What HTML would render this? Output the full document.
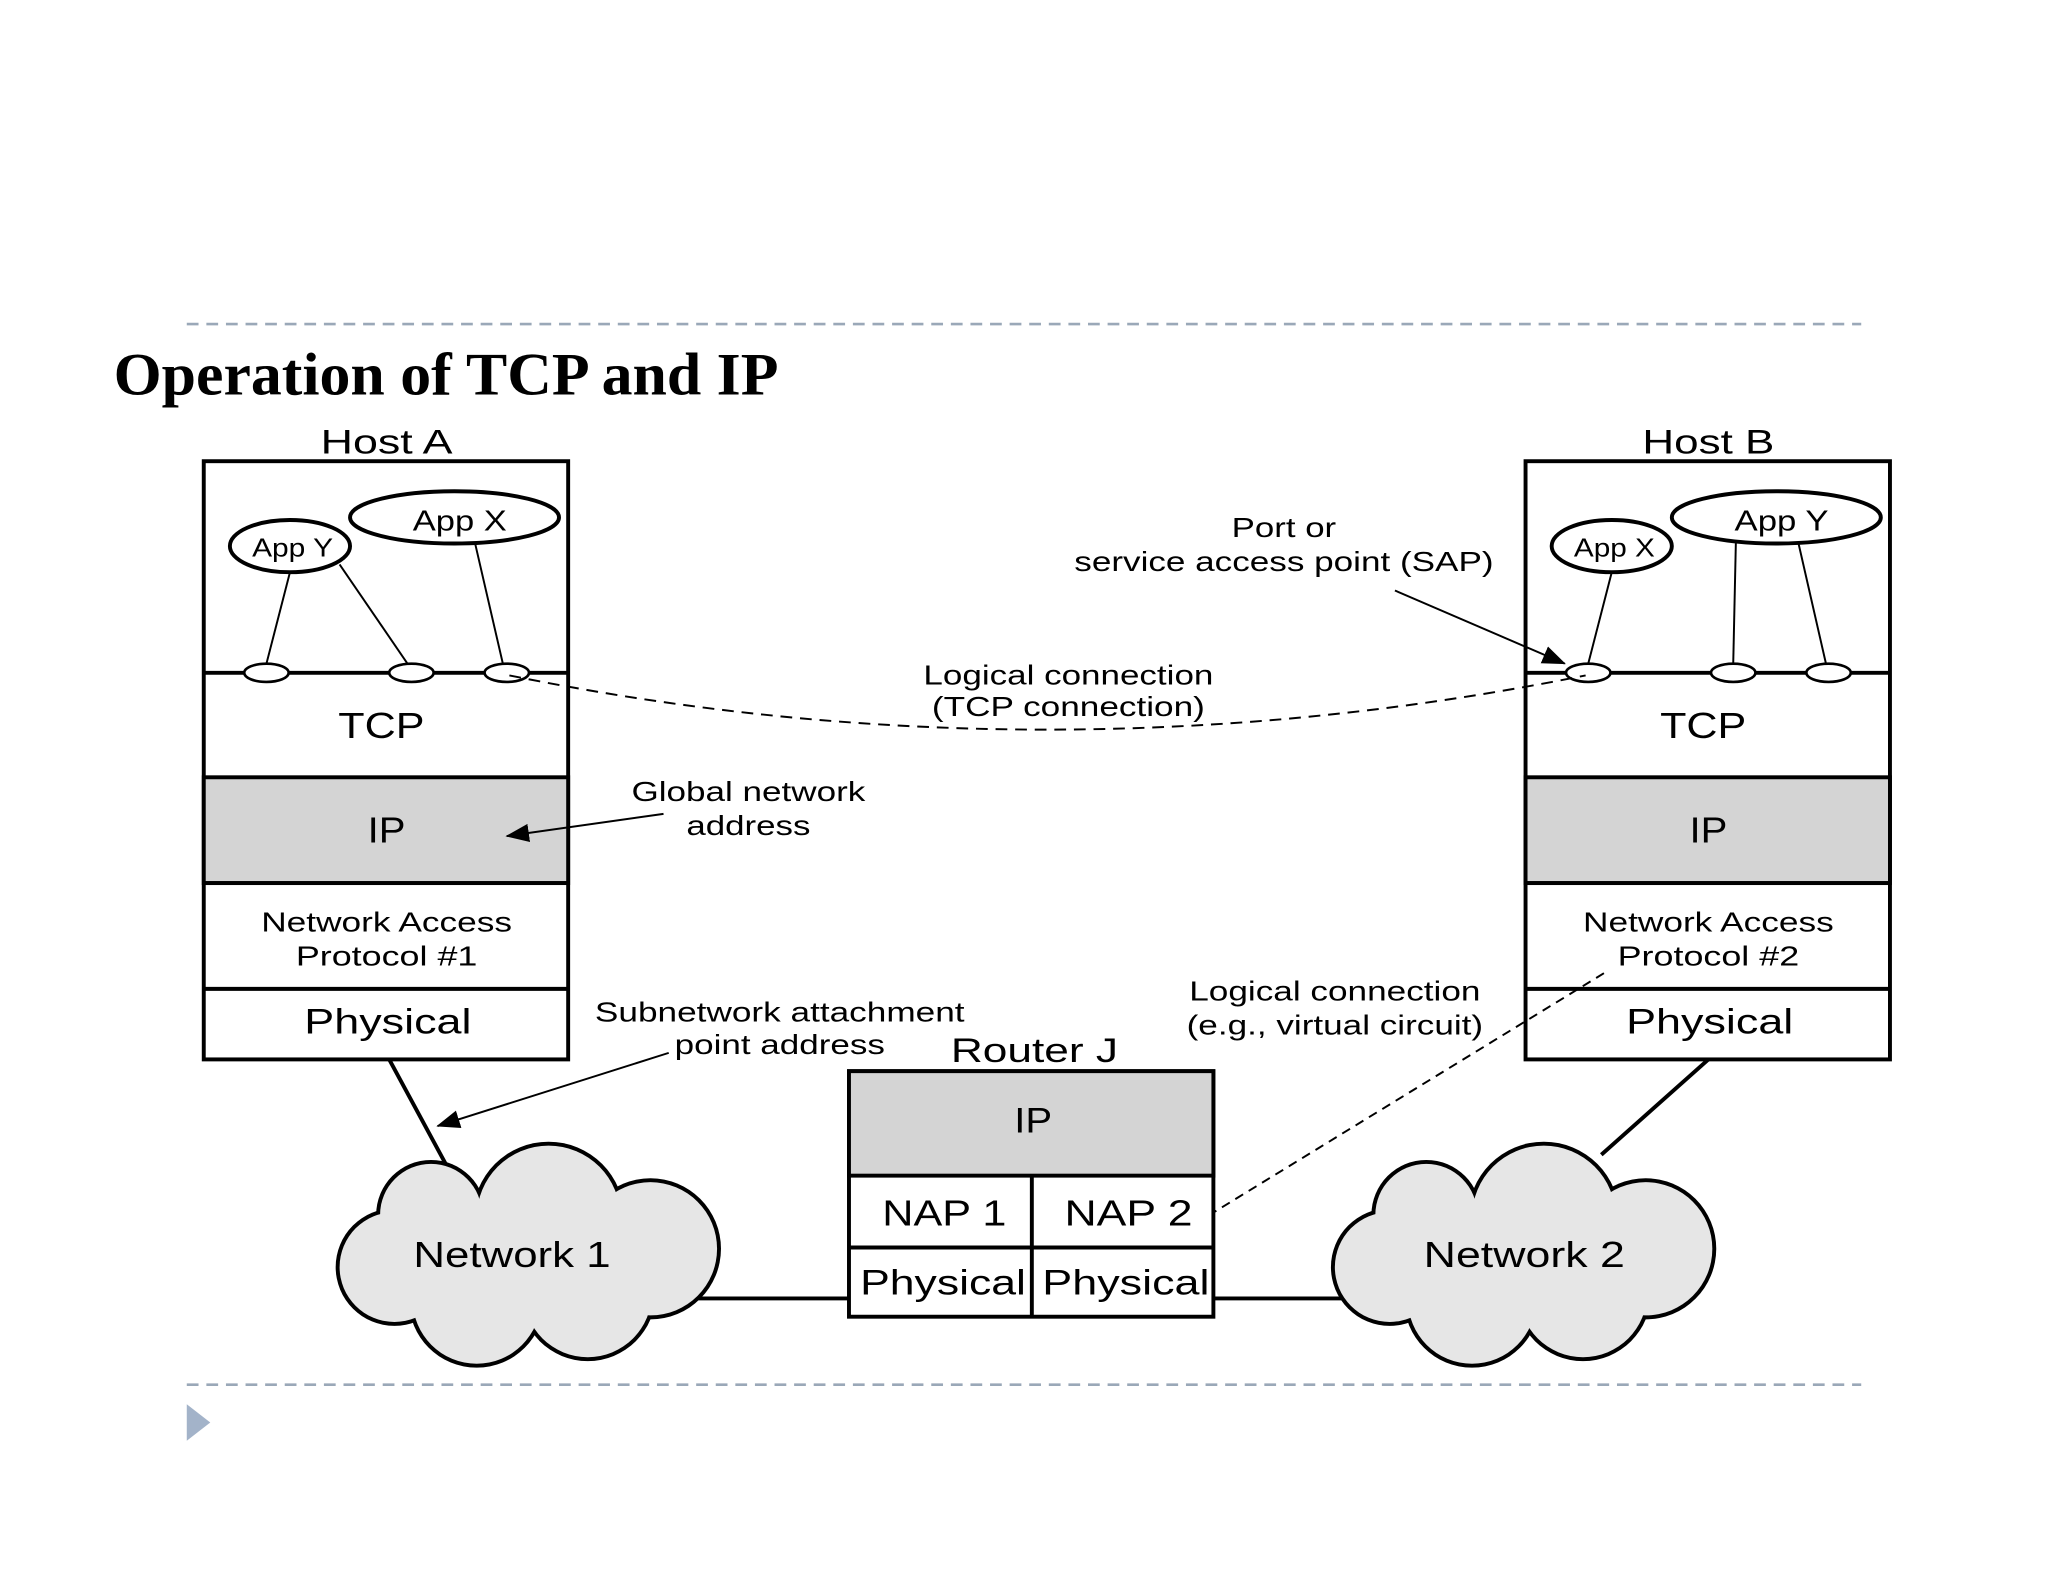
<!DOCTYPE html>
<html><head><meta charset="utf-8"><style>
html,body{margin:0;padding:0;background:#fff;}
svg{display:block;}
text{font-family:"Liberation Sans",Arial,sans-serif;fill:#000;}
</style></head><body>
<svg width="2048" height="1582" viewBox="0 0 1568 1211" xmlns="http://www.w3.org/2000/svg">
<defs>
<marker id="ah2" markerWidth="18" markerHeight="14" refX="17" refY="7" orient="auto" markerUnits="userSpaceOnUse">
<path d="M0,0 L18,7 L0,14 z" fill="#000"/></marker>
</defs>
<rect width="1568" height="1211" fill="#fff"/>
<line x1="143" y1="248" x2="1425" y2="248" stroke="#9aa8b8" stroke-width="2" stroke-dasharray="9,6"/>
<line x1="143" y1="1060" x2="1425" y2="1060" stroke="#9aa8b8" stroke-width="2" stroke-dasharray="9,6"/>
<text x="87" y="302" textLength="509" lengthAdjust="spacingAndGlyphs" style="font-family:'Liberation Serif',serif;font-weight:bold;font-size:46px">Operation of TCP and IP</text>
<path d="M143,1075 L143,1103 L161,1089 z" fill="#a3b3c9"/>

<!-- Host A -->
<text x="296" y="347" font-size="26" text-anchor="middle" textLength="101" lengthAdjust="spacingAndGlyphs">Host A</text>
<g stroke="#000" stroke-width="3" fill="none">
<rect x="156" y="353" width="279" height="458" fill="#fff"/>
<rect x="156" y="595" width="279" height="81" fill="#d4d4d4"/>
<line x1="156" y1="515" x2="435" y2="515"/>
<line x1="156" y1="676" x2="435" y2="676"/>
<line x1="156" y1="757" x2="435" y2="757"/>
</g>
<g stroke="#000" stroke-width="1.5">
<line x1="222" y1="438" x2="204" y2="508"/>
<line x1="260" y1="432" x2="312" y2="508"/>
<line x1="364" y1="417" x2="385" y2="508"/>
</g>
<g stroke="#000" stroke-width="3" fill="#fff">
<ellipse cx="222" cy="418" rx="46" ry="20"/>
<ellipse cx="348" cy="396" rx="80" ry="20"/>
</g>
<g stroke="#000" stroke-width="2" fill="#fff">
<ellipse cx="204" cy="515" rx="17" ry="7"/>
<ellipse cx="315" cy="515" rx="17" ry="7"/>
<ellipse cx="388" cy="515" rx="17" ry="7"/>
</g>
<text x="224" y="426" font-size="20" text-anchor="middle" textLength="62" lengthAdjust="spacingAndGlyphs">App Y</text>
<text x="352" y="406" font-size="22" text-anchor="middle" textLength="72" lengthAdjust="spacingAndGlyphs">App X</text>
<text x="292" y="565" font-size="28" text-anchor="middle" textLength="66" lengthAdjust="spacingAndGlyphs">TCP</text>
<text x="296" y="645" font-size="28" text-anchor="middle" textLength="29" lengthAdjust="spacingAndGlyphs">IP</text>
<text x="296" y="713" font-size="21" text-anchor="middle" textLength="192" lengthAdjust="spacingAndGlyphs">Network Access</text>
<text x="296" y="739" font-size="21" text-anchor="middle" textLength="139" lengthAdjust="spacingAndGlyphs">Protocol #1</text>
<text x="297" y="791" font-size="27" text-anchor="middle" textLength="128" lengthAdjust="spacingAndGlyphs">Physical</text>

<!-- Host B -->
<text x="1308" y="347" font-size="26" text-anchor="middle" textLength="101" lengthAdjust="spacingAndGlyphs">Host B</text>
<g stroke="#000" stroke-width="3" fill="none">
<rect x="1168" y="353" width="279" height="458" fill="#fff"/>
<rect x="1168" y="595" width="279" height="81" fill="#d4d4d4"/>
<line x1="1168" y1="515" x2="1447" y2="515"/>
<line x1="1168" y1="676" x2="1447" y2="676"/>
<line x1="1168" y1="757" x2="1447" y2="757"/>
</g>
<g stroke="#000" stroke-width="1.5">
<line x1="1234" y1="438" x2="1216" y2="508"/>
<line x1="1329" y1="416" x2="1327" y2="508"/>
<line x1="1377" y1="416" x2="1398" y2="508"/>
</g>
<g stroke="#000" stroke-width="3" fill="#fff">
<ellipse cx="1234" cy="418" rx="46" ry="20"/>
<ellipse cx="1360" cy="396" rx="80" ry="20"/>
</g>
<g stroke="#000" stroke-width="2" fill="#fff">
<ellipse cx="1216" cy="515" rx="17" ry="7"/>
<ellipse cx="1327" cy="515" rx="17" ry="7"/>
<ellipse cx="1400" cy="515" rx="17" ry="7"/>
</g>
<text x="1236" y="426" font-size="20" text-anchor="middle" textLength="62" lengthAdjust="spacingAndGlyphs">App X</text>
<text x="1364" y="406" font-size="22" text-anchor="middle" textLength="72" lengthAdjust="spacingAndGlyphs">App Y</text>
<text x="1304" y="565" font-size="28" text-anchor="middle" textLength="66" lengthAdjust="spacingAndGlyphs">TCP</text>
<text x="1308" y="645" font-size="28" text-anchor="middle" textLength="29" lengthAdjust="spacingAndGlyphs">IP</text>
<text x="1308" y="713" font-size="21" text-anchor="middle" textLength="192" lengthAdjust="spacingAndGlyphs">Network Access</text>
<text x="1308" y="739" font-size="21" text-anchor="middle" textLength="139" lengthAdjust="spacingAndGlyphs">Protocol #2</text>
<text x="1309" y="791" font-size="27" text-anchor="middle" textLength="128" lengthAdjust="spacingAndGlyphs">Physical</text>

<!-- logical TCP connection -->
<path d="M390,517 Q800,600 1214,517" fill="none" stroke="#000" stroke-width="1.5" stroke-dasharray="9,6"/>
<text x="818" y="524" font-size="21" text-anchor="middle" textLength="222" lengthAdjust="spacingAndGlyphs">Logical connection</text>
<text x="818" y="548" font-size="21" text-anchor="middle" textLength="209" lengthAdjust="spacingAndGlyphs">(TCP connection)</text>
<text x="983" y="411" font-size="21" text-anchor="middle" textLength="80" lengthAdjust="spacingAndGlyphs">Port or</text>
<text x="983" y="437" font-size="21" text-anchor="middle" textLength="321" lengthAdjust="spacingAndGlyphs">service access point (SAP)</text>
<line x1="1068" y1="452" x2="1198" y2="508" stroke="#000" stroke-width="1.5" marker-end="url(#ah2)"/>
<text x="573" y="613" font-size="21" text-anchor="middle" textLength="179" lengthAdjust="spacingAndGlyphs">Global network</text>
<text x="573" y="639" font-size="21" text-anchor="middle" textLength="95" lengthAdjust="spacingAndGlyphs">address</text>
<line x1="508" y1="623" x2="388" y2="640" stroke="#000" stroke-width="1.5" marker-end="url(#ah2)"/>
<text x="597" y="782" font-size="21" text-anchor="middle" textLength="283" lengthAdjust="spacingAndGlyphs">Subnetwork attachment</text>
<text x="597" y="807" font-size="21" text-anchor="middle" textLength="161" lengthAdjust="spacingAndGlyphs">point address</text>
<line x1="512" y1="806" x2="335" y2="862" stroke="#000" stroke-width="1.5" marker-end="url(#ah2)"/>
<text x="1022" y="766" font-size="21" text-anchor="middle" textLength="223" lengthAdjust="spacingAndGlyphs">Logical connection</text>
<text x="1022" y="792" font-size="21" text-anchor="middle" textLength="227" lengthAdjust="spacingAndGlyphs">(e.g., virtual circuit)</text>
<line x1="1228" y1="745" x2="918" y2="935" stroke="#000" stroke-width="1.5" stroke-dasharray="7,5"/>

<!-- Router -->
<text x="792" y="813" font-size="26" text-anchor="middle" textLength="128" lengthAdjust="spacingAndGlyphs">Router J</text>
<g stroke="#000" stroke-width="3" fill="none">
<rect x="650" y="820" width="279" height="188" fill="#fff"/>
<rect x="650" y="820" width="279" height="80" fill="#d4d4d4"/>
<line x1="650" y1="955" x2="929" y2="955"/>
<line x1="790" y1="900" x2="790" y2="1008"/>
</g>
<text x="791" y="867" font-size="27" text-anchor="middle" textLength="29" lengthAdjust="spacingAndGlyphs">IP</text>
<text x="723" y="938" font-size="28" text-anchor="middle" textLength="95" lengthAdjust="spacingAndGlyphs">NAP 1</text>
<text x="864" y="938" font-size="28" text-anchor="middle" textLength="98" lengthAdjust="spacingAndGlyphs">NAP 2</text>
<text x="722" y="991" font-size="27" text-anchor="middle" textLength="127" lengthAdjust="spacingAndGlyphs">Physical</text>
<text x="862" y="991" font-size="27" text-anchor="middle" textLength="128" lengthAdjust="spacingAndGlyphs">Physical</text>

<!-- links -->
<g stroke="#000" stroke-width="3">
<line x1="298" y1="811" x2="345" y2="898"/>
<line x1="1308" y1="811" x2="1226" y2="884"/>
<line x1="530" y1="994" x2="650" y2="994"/>
<line x1="929" y1="994" x2="1030" y2="994"/>
</g>

<!-- clouds -->
<g id="c1">
<g fill="#000">
<circle cx="420" cy="932" r="58"/><circle cx="330" cy="930" r="42"/><circle cx="302" cy="970" r="45"/>
<circle cx="365" cy="995" r="52"/><circle cx="450" cy="990" r="52"/><circle cx="498" cy="956" r="54"/>
</g>
<g fill="#e6e6e6">
<circle cx="420" cy="932" r="55"/><circle cx="330" cy="930" r="39"/><circle cx="302" cy="970" r="42"/>
<circle cx="365" cy="995" r="49"/><circle cx="450" cy="990" r="49"/><circle cx="498" cy="956" r="51"/>
<rect x="320" y="930" width="180" height="60"/>
</g>
</g>
<use href="#c1" transform="translate(762,0)"/>
<text x="392" y="970" font-size="28" text-anchor="middle" textLength="151" lengthAdjust="spacingAndGlyphs">Network 1</text>
<text x="1167" y="970" font-size="28" text-anchor="middle" textLength="154" lengthAdjust="spacingAndGlyphs">Network 2</text>
</svg>
</body></html>
